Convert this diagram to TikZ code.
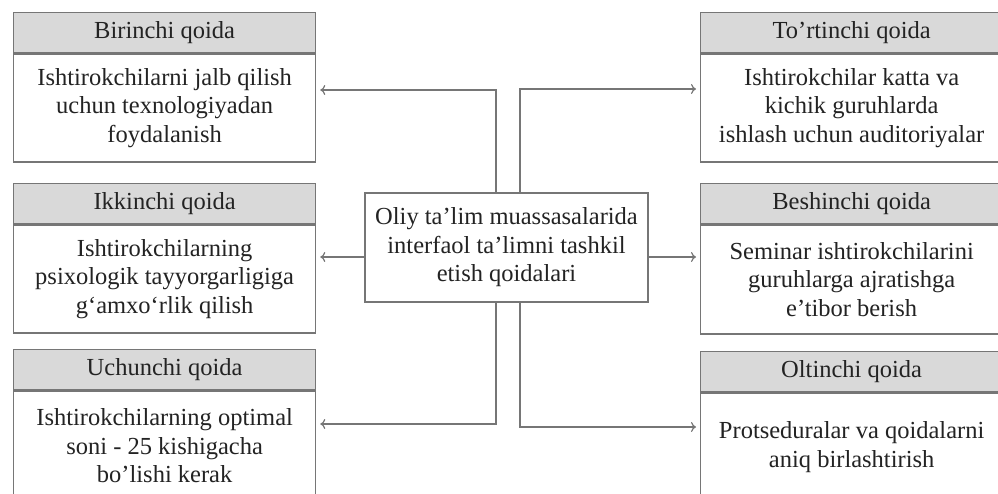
\documentclass[tikz,border=0pt]{standalone}
\usepackage{fontspec}
\setmainfont{Liberation Serif}
\usetikzlibrary{positioning,calc,arrows.meta}
\definecolor{RuleGray}{RGB}{118, 118, 118}
\definecolor{HeadGray}{RGB}{217, 217, 217}
\definecolor{TextDark}{RGB}{35, 35, 35}

\tikzset{
  boxtext/.style={font=\fontsize{24.5}{28.5}\selectfont, text=TextDark},
  head/.style={boxtext, draw=RuleGray, fill=HeadGray, line width=1.3pt,
    minimum width=302pt, minimum height=40pt, inner sep=0pt, anchor=north west},
  body/.style={boxtext, draw=RuleGray, fill=white, line width=1.3pt, align=center,
    minimum width=302pt, inner sep=0pt, anchor=north west},
  centre/.style={boxtext, draw=RuleGray, fill=white, line width=1.3pt, align=center,
    minimum width=283pt, minimum height=109pt, inner sep=0pt},
  link/.style={draw=RuleGray, line width=1.2pt, -{To[length=5pt,width=10pt]}, shorten >=4pt}
}

\begin{document}
\begin{tikzpicture}[x=1pt, y=-1pt]
  \useasboundingbox (0,0) rectangle (998,494);
  \clip (0,0) rectangle (998,494);

  % Left column
  \node[head] (h1) at (13,12) {Birinchi qoida};
  \node[body, minimum height=108pt] (b1) at (h1.south west)
    {Ishtirokchilarni jalb qilish\\uchun texnologiyadan\\foydalanish};
  \node[head] (h2) at (13,183) {Ikkinchi qoida};
  \node[body, minimum height=108pt] (b2) at (h2.south west)
    {Ishtirokchilarning\\psixologik tayyorgarligiga\\g‘amxo‘rlik qilish};
  \node[head] (h3) at (13,349) {Uchunchi qoida};
  \node[body, minimum height=110pt] (b3) at (h3.south west)
    {Ishtirokchilarning optimal\\soni - 25 kishigacha\\bo'lishi kerak};

  % Right column
  \node[head] (h4) at (700,12) {To'rtinchi qoida};
  \node[body, minimum height=108pt] (b4) at (h4.south west)
    {Ishtirokchilar katta va\\kichik guruhlarda\\ishlash uchun auditoriyalar};
  \node[head] (h5) at (700,183) {Beshinchi qoida};
  \node[body, minimum height=109pt] (b5) at (h5.south west)
    {Seminar ishtirokchilarini\\guruhlarga ajratishga\\e’tibor berish};
  \node[head] (h6) at (700,351) {Oltinchi qoida};
  \node[body, minimum height=108pt] (b6) at (h6.south west)
    {Protseduralar va qoidalarni\\aniq birlashtirish};

  % Centre
  \node[centre] (ctr) at (506.5,247.5)
    {Oliy ta'lim muassasalarida\\interfaol ta'limni tashkil\\etish qoidalari};

  % Trunk corners
  \coordinate (lt) at (496,90);
  \coordinate (lb) at (496,424);
  \coordinate (rt) at (520,89);
  \coordinate (rb) at (520,427);
  \coordinate (mid) at (506,257);

  % Connectors
  \draw[link] (ctr.north -| lt) -- (lt) -- (b1.east |- lt);
  \draw[link] (ctr.south -| lb) -- (lb) -- (b3.east |- lb);
  \draw[link] (ctr.west |- mid) -- (b2.east |- mid);
  \draw[link] (ctr.north -| rt) -- (rt) -- (b4.west |- rt);
  \draw[link] (ctr.south -| rb) -- (rb) -- (b6.west |- rb);
  \draw[link] (ctr.east |- mid) -- (b5.west |- mid);
\end{tikzpicture}
\end{document}
